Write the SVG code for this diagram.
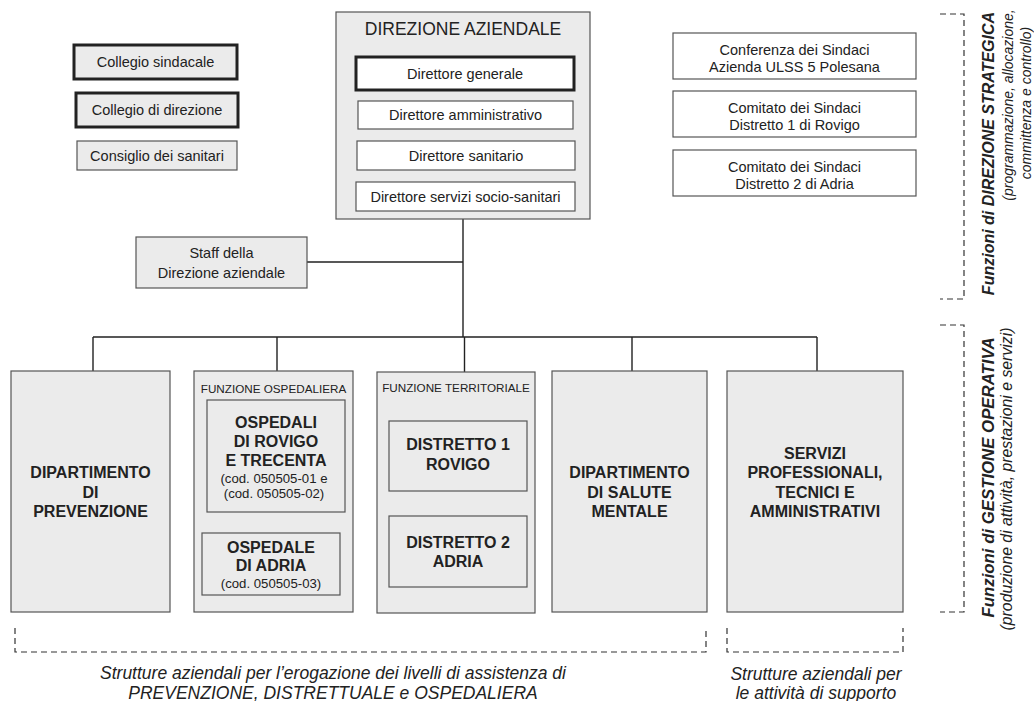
<svg xmlns="http://www.w3.org/2000/svg" width="1034" height="701" viewBox="0 0 1034 701">
<style>
text{font-family:"Liberation Sans",Arial,Helvetica,sans-serif;fill:#222}
.g{fill:#ebebeb;stroke:#555;stroke-width:1.2}
.w{fill:#fff;stroke:#555;stroke-width:1.2}
.gk{fill:#ebebeb;stroke:#222;stroke-width:3}
.wk{fill:#fff;stroke:#222;stroke-width:3}
.t{font-size:14.5px;text-anchor:middle}
.b{font-size:16px;font-weight:bold;text-anchor:middle}
.s{font-size:13.2px;text-anchor:middle}
.f{font-size:11.7px;text-anchor:middle}
.it{font-size:17.5px;font-style:italic;text-anchor:middle}
.rt{font-size:16px;font-weight:bold;font-style:italic;text-anchor:middle}
.rs{font-size:14px;font-style:italic;text-anchor:middle}
.ln{fill:none;stroke:#222;stroke-width:1.4}
.dash{fill:none;stroke:#333;stroke-width:1.2;stroke-dasharray:6 4}
</style>
<g id="connectors">
<path class="ln" d="M463 219V337M464.5 337V372M307 262H463M93 337H817M93 337V371M277 337V371M632 337V371M817 337V371"/>
</g>
<g id="collegio-sindacale"><rect class="gk" x="74" y="45" width="163" height="34"/><text class="t" x="155.5" y="67">Collegio sindacale</text></g>
<g id="collegio-direzione"><rect class="gk" x="76" y="93" width="162" height="34"/><text class="t" x="157" y="115">Collegio di direzione</text></g>
<g id="consiglio-sanitari"><rect class="g" x="77" y="141" width="160" height="29"/><text class="t" x="157" y="160.5">Consiglio dei sanitari</text></g>
<g id="direzione-aziendale">
<rect class="g" x="336" y="12" width="254" height="207"/>
<text x="463" y="35" style="font-size:17.5px;text-anchor:middle">DIREZIONE AZIENDALE</text>
<rect class="wk" x="356" y="57" width="218" height="33"/><text class="t" x="465" y="78.5">Direttore generale</text>
<rect class="w" x="358" y="101" width="215" height="28"/><text class="t" x="465.5" y="120">Direttore amministrativo</text>
<rect class="w" x="357" y="141" width="218" height="29"/><text class="t" x="466" y="160.5">Direttore sanitario</text>
<rect class="w" x="356" y="182" width="219" height="29"/><text class="t" x="465.5" y="201.5">Direttore servizi socio-sanitari</text>
</g>
<g id="conferenza-sindaci"><rect class="w" x="673" y="33" width="243" height="46"/><text class="t" x="794.5" y="55">Conferenza dei Sindaci</text><text class="t" x="794.5" y="71.5">Azienda ULSS 5 Polesana</text></g>
<g id="comitato-1"><rect class="w" x="673" y="91" width="243" height="46"/><text class="t" x="794.5" y="113">Comitato dei Sindaci</text><text class="t" x="794.5" y="129.5">Distretto 1 di Rovigo</text></g>
<g id="comitato-2"><rect class="w" x="673" y="150" width="243" height="46"/><text class="t" x="794.5" y="172">Comitato dei Sindaci</text><text class="t" x="794.5" y="188.5">Distretto 2 di Adria</text></g>
<g id="staff"><rect class="g" x="136" y="237" width="171" height="51"/><text class="t" x="221.5" y="258">Staff della</text><text class="t" x="221.5" y="278">Direzione aziendale</text></g>
<g id="dip-prevenzione"><rect class="g" x="11" y="371" width="159" height="241"/>
<text class="b" x="90.5" y="478">DIPARTIMENTO</text><text class="b" x="90.5" y="497.5">DI</text><text class="b" x="90.5" y="517">PREVENZIONE</text></g>
<g id="funzione-ospedaliera"><rect class="g" x="194" y="371" width="159" height="241"/>
<text class="f" x="273.5" y="393">FUNZIONE OSPEDALIERA</text>
<rect class="g" x="207" y="400" width="138" height="112"/>
<text class="b" x="276" y="428">OSPEDALI</text><text class="b" x="276" y="447">DI ROVIGO</text><text class="b" x="276" y="466">E TRECENTA</text>
<text class="s" x="274" y="483">(cod. 050505-01 e</text><text class="s" x="274" y="498">(cod. 050505-02)</text>
<rect class="g" x="202" y="533" width="138" height="62"/>
<text class="b" x="271" y="553">OSPEDALE</text><text class="b" x="271" y="571">DI ADRIA</text><text class="s" x="271" y="588">(cod. 050505-03)</text></g>
<g id="funzione-territoriale"><rect class="g" x="377" y="372" width="158" height="241"/>
<text class="f" x="456" y="392">FUNZIONE TERRITORIALE</text>
<rect class="g" x="389" y="421" width="138" height="70"/>
<text class="b" x="458" y="450">DISTRETTO 1</text><text class="b" x="458" y="470">ROVIGO</text>
<rect class="g" x="389" y="516" width="138" height="71"/>
<text class="b" x="458" y="548">DISTRETTO 2</text><text class="b" x="458" y="567">ADRIA</text></g>
<g id="dip-salute-mentale"><rect class="g" x="552" y="371" width="155" height="241"/>
<text class="b" x="629.5" y="478">DIPARTIMENTO</text><text class="b" x="629.5" y="497.5">DI SALUTE</text><text class="b" x="629.5" y="517">MENTALE</text></g>
<g id="servizi"><rect class="g" x="727" y="371" width="176" height="241"/>
<text class="b" x="815" y="458.5">SERVIZI</text><text class="b" x="815" y="478">PROFESSIONALI,</text><text class="b" x="815" y="497.5">TECNICI E</text><text class="b" x="815" y="517">AMMINISTRATIVI</text></g>
<g id="brackets">
<path class="dash" d="M15 628V652H706V628"/>
<path class="dash" d="M727 628V652H903V628"/>
<path class="dash" d="M940 14H964V299H940"/>
<path class="dash" d="M940 325H964V612H940"/>
</g>
<g id="labels">
<text class="it" x="333" y="679">Strutture aziendali per l’erogazione dei livelli di assistenza di</text>
<text class="it" x="333" y="699">PREVENZIONE, DISTRETTUALE e OSPEDALIERA</text>
<text class="it" x="816" y="680">Strutture aziendali per</text>
<text class="it" x="816" y="699">le attività di supporto</text>
<text class="rt" transform="translate(994 153.5) rotate(-90)">Funzioni di DIREZIONE STRATEGICA</text>
<text class="rs" transform="translate(1013 105) rotate(-90)">(programmazione, allocazione,</text>
<text class="rs" transform="translate(1031 103) rotate(-90)">committenza e controllo)</text>
<text class="rt" transform="translate(994 477.5) rotate(-90)" style="font-size:16.8px">Funzioni di GESTIONE OPERATIVA</text>
<text class="rs" transform="translate(1012 479) rotate(-90)" style="font-size:15.8px">(produzione di attività, prestazioni e servizi)</text>
</g>
</svg>
